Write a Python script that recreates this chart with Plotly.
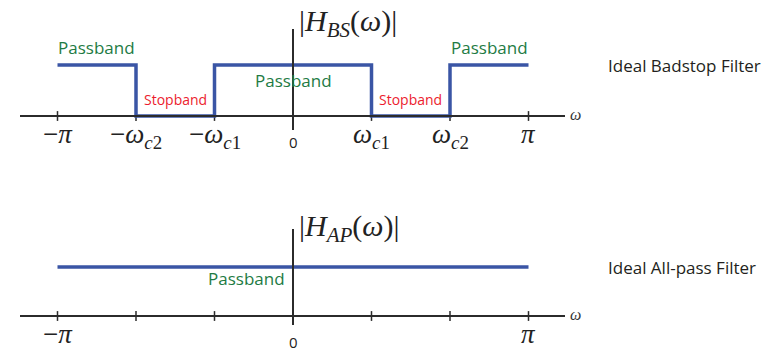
import math
import plotly.graph_objects as go

PI = math.pi
WC1 = PI / 3          # inner cutoff
WC2 = 2 * PI / 3      # outer cutoff

# Ideal band-stop magnitude: breakpoints (step drawn with 'hv')
bs_omega = [-PI, -WC2, -WC1, WC1, WC2, PI]
bs_mag = [1, 0, 1, 0, 1, 1]

# Ideal all-pass magnitude
ap_omega = [-PI, PI]
ap_mag = [1, 1]

# Frequency ticks
tick_omega = [-PI, -WC2, -WC1, 0, WC1, WC2, PI]
tick_text_bs = ["\u2212<i>\u03c0</i>", "\u2212<i>\u03c9</i><sub><i>c</i>2</sub>",
                "\u2212<i>\u03c9</i><sub><i>c</i>1</sub>", "",
                "<i>\u03c9</i><sub><i>c</i>1</sub>", "<i>\u03c9</i><sub><i>c</i>2</sub>",
                "<i>\u03c0</i>"]
tick_text_ap = ["\u2212<i>\u03c0</i>", "", "", "", "", "", "<i>\u03c0</i>"]

W, H = 781, 354
BLUE = "#3a55a5"
AXIS = "#2b2b2b"
GREEN = "#1e7b44"
RED = "#ec1c2e"
SERIF = "Liberation Serif, DejaVu Serif, serif"
SANS = "Open Sans, Noto Sans, sans-serif"

# pixel geometry -> data ranges
X0_PX, UNIT_PX = 293.0, 78.5 * 3 / PI        # px per radian
x_range = [(0 - X0_PX) / UNIT_PX, (W - X0_PX) / UNIT_PX]
top_zero, top_one = 116.0, 65.0
bot_zero, bot_one = 316.0, 267.0
half = H / 2
ts = top_zero - top_one
bs = bot_zero - bot_one
y1_range = [(top_zero - half) / ts, top_zero / ts]
y2_range = [(bot_zero - H) / bs, (bot_zero - half) / bs]

x_axis_lo = (20 - X0_PX) / UNIT_PX
x_axis_hi = (565 - X0_PX) / UNIT_PX

fig = go.Figure()

panels = [
    ("y", bs_omega, bs_mag, tick_text_bs, (top_zero - 29) / ts, (top_zero - 130) / ts),
    ("y2", ap_omega, ap_mag, tick_text_ap, (bot_zero - 229) / bs, (bot_zero - 325) / bs),
]

shapes = []
annotations = []
for yax, om, mag, ttext, vtop, vbot in panels:
    # horizontal frequency axis
    shapes.append(dict(type="line", xref="x", yref=yax, x0=x_axis_lo, x1=x_axis_hi,
                       y0=0, y1=0, line=dict(color=AXIS, width=2)))
    # vertical magnitude axis
    shapes.append(dict(type="line", xref="x", yref=yax, x0=0, x1=0,
                       y0=vbot, y1=vtop, line=dict(color=AXIS, width=2)))
    # tick marks
    fig.add_trace(go.Scatter(x=tick_omega, y=[0] * len(tick_omega), mode="markers",
                             marker=dict(symbol="line-ns", size=7,
                                         line=dict(color=AXIS, width=1.5)),
                             xaxis="x", yaxis=yax, hoverinfo="skip", showlegend=False))
    # response
    fig.add_trace(go.Scatter(x=om, y=mag, mode="lines", line_shape="hv",
                             line=dict(color=BLUE, width=3.5),
                             xaxis="x", yaxis=yax, showlegend=False))
    # tick labels
    for xv, txt in zip(tick_omega, ttext):
        if txt:
            annotations.append(dict(x=xv, y=0, xref="x", yref=yax, text=txt,
                                    showarrow=False, yanchor="top", yshift=-1,
                                    font=dict(family=SERIF, size=27, color="#222")))
    annotations.append(dict(x=0, y=0, xref="x", yref=yax, text="0", showarrow=False,
                            yanchor="middle", yshift=-26, borderpad=0,
                            font=dict(family=SANS, size=15, color="#222")))
    annotations.append(dict(x=x_axis_hi, y=0, xref="x", yref=yax, text="<i>\u03c9</i>",
                            showarrow=False, xanchor="left", xshift=3, yshift=2,
                            font=dict(family=SERIF, size=16, color="#333")))

# magnitude axis titles
annotations.append(dict(x=0, y=(top_zero - 23) / ts, xref="x", yref="y",
                        text="|<i>H</i><sub><i>BS</i></sub>(<i>\u03c9</i>)|",
                        showarrow=False, xanchor="left", xshift=4,
                        font=dict(family=SERIF, size=30, color="#222")))
annotations.append(dict(x=0, y=(bot_zero - 228) / bs, xref="x", yref="y2",
                        text="|<i>H</i><sub><i>AP</i></sub>(<i>\u03c9</i>)|",
                        showarrow=False, xanchor="left", xshift=4,
                        font=dict(family=SERIF, size=30, color="#222")))

# band labels
band_labels = [
    ("Passband", (-PI - WC2) / 2, 1, 18, GREEN, "y"),
    ("Passband", 0, 1, -15, GREEN, "y"),
    ("Passband", (PI + WC2) / 2, 1, 18, GREEN, "y"),
    ("Stopband", (-WC2 - WC1) / 2, 0, 17, RED, "y"),
    ("Stopband", (WC2 + WC1) / 2, 0, 17, RED, "y"),
    ("Passband", -WC1 / 2 - 0.1, 1, -11, GREEN, "y2"),
]
for txt, xv, yv, ysh, col, yax in band_labels:
    annotations.append(dict(x=xv, y=yv, xref="x", yref=yax, text=txt, showarrow=False,
                            yshift=ysh, font=dict(family=SANS,
                                                  size=17 if txt == "Passband" else 14,
                                                  color=col)))

# filter names
annotations.append(dict(x=(606 - X0_PX) / UNIT_PX, y=1, xref="x", yref="y",
                        text="Ideal Badstop Filter", showarrow=False, xanchor="left",
                        font=dict(family=SANS, size=17, color="#231f20")))
annotations.append(dict(x=(606 - X0_PX) / UNIT_PX, y=1, xref="x", yref="y2",
                        text="Ideal All-pass Filter", showarrow=False, xanchor="left",
                        font=dict(family=SANS, size=17, color="#231f20")))

fig.update_layout(
    width=W, height=H, margin=dict(l=0, r=0, t=0, b=0),
    paper_bgcolor="white", plot_bgcolor="white",
    xaxis=dict(range=x_range, visible=False, fixedrange=True),
    yaxis=dict(range=y1_range, domain=[0.5, 1], visible=False, fixedrange=True),
    yaxis2=dict(range=y2_range, domain=[0, 0.5], visible=False, fixedrange=True,
                anchor="x"),
    shapes=shapes, annotations=annotations,
)

fig.write_html("out.html")
